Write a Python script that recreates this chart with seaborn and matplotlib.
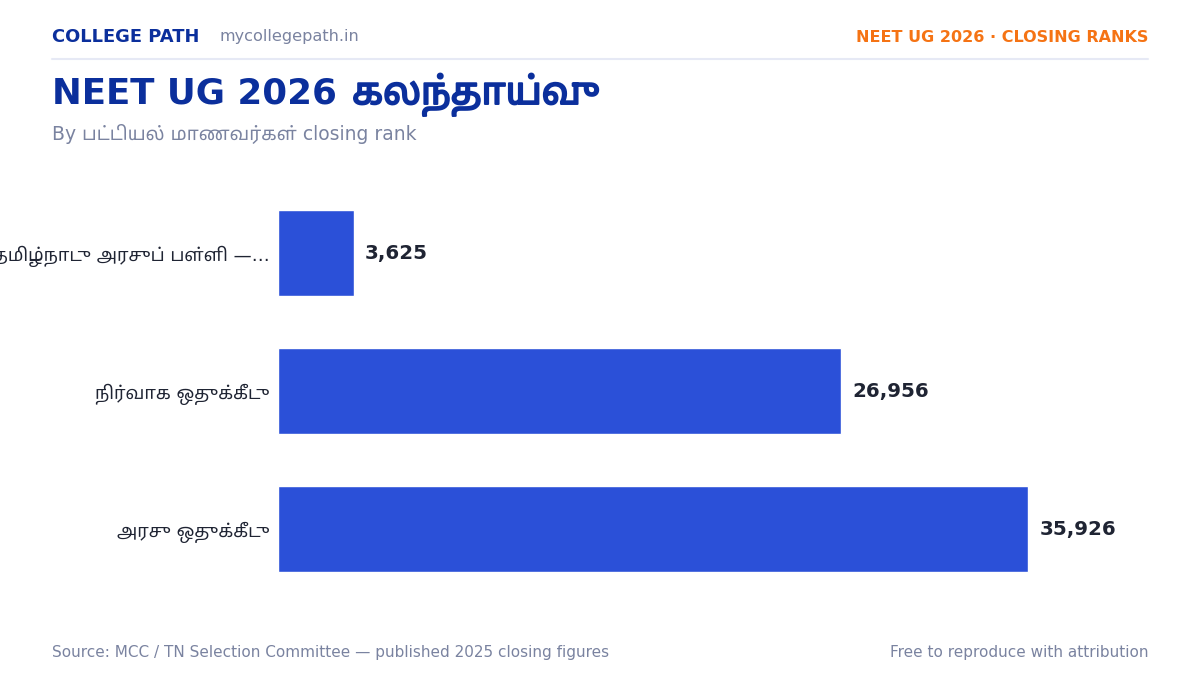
import matplotlib
matplotlib.use("Agg")
import matplotlib.pyplot as plt
import matplotlib.patheffects as pe
import seaborn as sns
import pandas as pd

# Data
categories = ["தமிழ்நாடு அரசுப் பள்ளி —…", "நிர்வாக ஒதுக்கீடு", "அரசு ஒதுக்கீடு"]
closing_ranks = [3625, 26956, 35926]

df = pd.DataFrame({"category": categories, "rank": closing_ranks})

sns.set_theme(style="white")
plt.rcParams['font.family'] = ['DejaVu Sans', 'Noto Sans Tamil']

NAVY = "#0B2F9C"
BAR = "#2B50D8"
ORANGE = "#F57314"
GRAY = "#7A83A0"
DARK = "#1F2433"

fig = plt.figure(figsize=(12, 6.75), dpi=100)
ax = fig.add_axes([278 / 1200, 1 - 598 / 675, 870 / 1200, 414 / 675])

sns.barplot(data=df, x="rank", y="category", color=BAR, width=0.62,
            saturation=1, ax=ax, orient="h")

ax.set_xlim(0, max(closing_ranks) * 1.16)
ax.set_ylim(2.5, -0.5)
ax.set_xlabel("")
ax.set_ylabel("")
ax.set_xticks([])
ax.tick_params(axis="y", length=0, pad=6, labelsize=13, labelcolor=DARK)
for s in ax.spines.values():
    s.set_visible(False)

for i, v in enumerate(closing_ranks):
    ax.text(v + max(closing_ranks) * 0.015, i, f"{v:,}", va="center", ha="left",
            fontsize=14.3, fontweight="bold", color=DARK)

# Header
fig.text(52 / 1200, 1 - 37 / 675, "COLLEGE PATH", fontsize=12.9, fontweight="bold",
         color=NAVY, va="center")
fig.text(220 / 1200, 1 - 37 / 675, "mycollegepath.in", fontsize=11.6, color=GRAY, va="center")
fig.text(1148 / 1200, 1 - 37 / 675, "NEET UG 2026 · CLOSING RANKS", fontsize=11.5,
         fontweight="bold", color=ORANGE, va="center", ha="right")
fig.add_artist(plt.Line2D([52 / 1200, 1148 / 1200], [1 - 59 / 675, 1 - 59 / 675],
                          color="#E6E9F5", lw=1.5))

# Title: latin part bold, tamil part with a stroke to look bold
t1 = fig.text(52 / 1200, 1 - 104 / 675, "NEET UG 2026", fontsize=25.7,
              fontweight="bold", color=NAVY, va="baseline")
ax.annotate("கலந்தாய்வு", xy=(1, 1 - 104 / 675), xycoords=(t1, "figure fraction"),
            xytext=(11, 0), textcoords="offset points", fontsize=27,
            fontweight="bold", color=NAVY, va="baseline", ha="left",
            annotation_clip=False,
            path_effects=[pe.withStroke(linewidth=1.4, foreground=NAVY)])

fig.text(52 / 1200, 1 - 134 / 675, "By பட்டியல் மாணவர்கள் closing rank",
         fontsize=13.5, color=GRAY, va="center")

# Footer
fig.text(52 / 1200, 1 - 653 / 675,
         "Source: MCC / TN Selection Committee — published 2025 closing figures",
         fontsize=11, color=GRAY, va="center")
fig.text(1148 / 1200, 1 - 653 / 675, "Free to reproduce with attribution",
         fontsize=11, color=GRAY, va="center", ha="right")

fig.savefig("out.png", dpi=100, facecolor="white")
